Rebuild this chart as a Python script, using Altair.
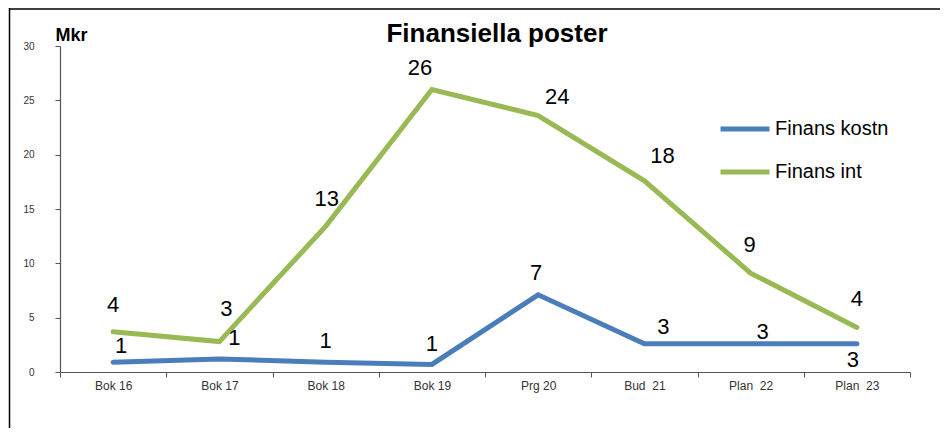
import altair as alt
import pandas as pd

# ---- data ----
CATEGORIES = ["Bok 16", "Bok 17", "Bok 18", "Bok 19", "Prg 20",
              "Bud\u00a0 21", "Plan\u00a0 22", "Plan\u00a0 23"]
SERIES = ["Finans kostn", "Finans int"]
FINANS_KOSTN = [0.9, 1.2, 0.9, 0.7, 7.1, 2.6, 2.6, 2.6]
FINANS_INT = [3.7, 2.8, 13.4, 26.0, 23.6, 17.6, 9.1, 4.1]
Y_TICKS = [0, 5, 10, 15, 20, 25, 30]

# ---- label placement (style, pixel nudges relative to each point) ----
KOSTN_LABEL_DX = [8, 15, 0, 0, -2, 19, 12, -4]
KOSTN_LABEL_DY = [-16, -21, -21, -20, -22, -17, -12, 16]
INT_LABEL_DX = [0, 7, 1, -12, 19, 18, -1, 0]
INT_LABEL_DY = [-27, -33, -27, -21, -19, -25, -28, -28]

BLUE = "#4a7ebb"
GREEN = "#98b954"
FONT = "Liberation Sans"

W, H = 850, 326
PAD = {"left": 52, "top": 38, "right": 30, "bottom": 56}

rows = []
for s, vals in zip(SERIES, [FINANS_KOSTN, FINANS_INT]):
    for i, (c, v) in enumerate(zip(CATEGORIES, vals)):
        rows.append({"category": c, "series": s, "value": v, "idx": i})
df = pd.DataFrame(rows)

base = alt.Chart(df)

x_axis = alt.Axis(title=None, labelAngle=0, tickBand="extent", labelFontSize=12,
                  labelFont=FONT, labelColor="#333333", tickSize=5, labelPadding=3,
                  domainColor="#555555", tickColor="#555555", domainWidth=1.2)
y_axis = alt.Axis(values=Y_TICKS, title="Mkr", titleAngle=0, titleAlign="left",
                  titleBaseline="alphabetic", titleX=-5, titleY=-6, titleFontSize=18,
                  titleFont=FONT, titleFontWeight="bold", titleColor="#000000",
                  grid=False, tickSize=5, labelPadding=21, labelFontSize=10,
                  labelFont=FONT, labelColor="#333333", domainColor="#555555",
                  tickColor="#555555", domainWidth=1.2)

x_scale = alt.Scale(type="band", paddingInner=0, paddingOuter=0)
y_scale = alt.Scale(domain=[0, 30], nice=False)

X = alt.X("category:N", sort=CATEGORIES, scale=x_scale, axis=x_axis)
Y = alt.Y("value:Q", scale=y_scale, axis=y_axis)

lines = base.mark_line(strokeWidth=5, strokeCap="round").encode(
    x=X,
    y=Y,
    color=alt.Color("series:N", sort=SERIES,
                    scale=alt.Scale(domain=SERIES, range=[BLUE, GREEN]),
                    legend=alt.Legend(title=None, orient="none", legendX=658, legendY=56,
                                      symbolType="stroke", symbolSize=2401,
                                      symbolStrokeWidth=5, labelFontSize=20,
                                      labelFont=FONT, labelColor="#000000",
                                      labelOffset=3, rowPadding=6)),
)

label_layers = []
for s, dxs, dys in [(SERIES[0], KOSTN_LABEL_DX, KOSTN_LABEL_DY),
                    (SERIES[1], INT_LABEL_DX, INT_LABEL_DY)]:
    for i in range(len(CATEGORIES)):
        label_layers.append(
            base.transform_filter(
                (alt.datum.series == s) & (alt.datum.idx == i)
            ).mark_text(dx=dxs[i], dy=dys[i], fontSize=22, font=FONT,
                        color="#000000", baseline="middle", align="center").encode(
                x=X,
                y=Y,
                text=alt.Text("value:Q", format=".0f"),
            )
        )

one = alt.Chart(pd.DataFrame({"a": [0]}))
title = one.mark_text(fontSize=26, fontWeight="bold", font=FONT, color="#000000",
                      align="center", baseline="alphabetic").encode(
    x=alt.value(437), y=alt.value(-4.3), text=alt.value("Finansiella poster"))

border_left = one.mark_rule(color="#000000", strokeWidth=1.5).encode(
    x=alt.value(-50.5), y=alt.value(-PAD["top"]), y2=alt.value(H + PAD["bottom"]))
border_top = one.mark_rule(color="#000000", strokeWidth=1.5).encode(
    x=alt.value(-51), x2=alt.value(W + PAD["right"]), y=alt.value(-37))

chart = alt.layer(lines, border_left, border_top, *label_layers, title).properties(
    width=W, height=H, padding=PAD, background="#ffffff",
    autosize=alt.AutoSizeParams(type="none"),
).configure_view(stroke=None)

chart.save("out.html", embed_options={"renderer": "svg", "actions": False})
